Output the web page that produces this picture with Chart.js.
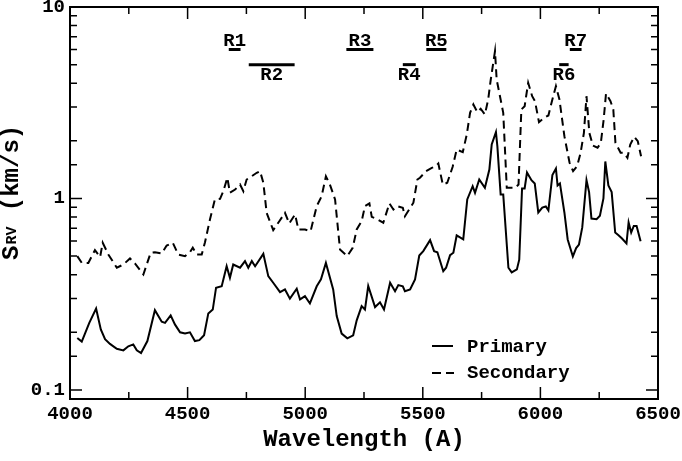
<!DOCTYPE html>
<html>
<head>
<meta charset="utf-8">
<script src="https://cdn.jsdelivr.net/npm/chart.js@4.4.0/dist/chart.umd.min.js"></script>
<style>
  html, body { margin: 0; padding: 0; background: #fff; }
  #wrap { width: 682px; height: 461px; }
</style>
</head>
<body>
<div id="wrap"><canvas id="c" width="682" height="461"></canvas></div>
<script>
// =====================
// DATA
// =====================
const primaryWave = [4031,4050,4082,4111,4131,4149,4170,4199,4227,4248,
  4269,4284,4302,4329,4361,4390,4404,4428,4446,4468,
  4489,4510,4531,4550,4570,4588,4607,4621,4645,4666,
  4680,4694,4723,4744,4758,4773,4787,4822,4843,4864,
  4893,4914,4935,4964,4978,4999,5020,5049,5067,5088,
  5119,5134,5155,5179,5204,5219,5240,5254,5268,5297,
  5318,5335,5361,5382,5396,5415,5424,5446,5467,5485,
  5502,5531,5548,5562,5587,5599,5616,5630,5644,5672,
  5689,5712,5722,5740,5764,5783,5793,5811,5817,5831,
  5842,5864,5878,5900,5910,5922,5933,5943,5962,5976,
  5991,6008,6023,6034,6051,6066,6073,6083,6102,6116,
  6138,6152,6164,6178,6196,6207,6217,6239,6253,6268,
  6276,6289,6303,6318,6332,6347,6366,6375,6386,6397,
  6409,6426];
const primaryS = [0.187,0.179,0.224,0.266,0.207,0.184,0.174,0.164,0.161,0.169,
  0.173,0.161,0.156,0.180,0.261,0.227,0.224,0.245,0.220,0.200,
  0.197,0.200,0.180,0.182,0.193,0.251,0.263,0.342,0.348,0.443,
  0.385,0.452,0.435,0.471,0.435,0.471,0.443,0.514,0.393,0.363,
  0.324,0.335,0.300,0.338,0.297,0.309,0.283,0.348,0.378,0.461,
  0.335,0.243,0.197,0.186,0.193,0.231,0.274,0.263,0.349,0.271,
  0.287,0.263,0.363,0.328,0.353,0.348,0.328,0.335,0.378,0.504,
  0.531,0.606,0.531,0.524,0.417,0.435,0.506,0.521,0.641,0.611,
  0.988,1.159,1.071,1.256,1.137,1.417,1.914,2.22,1.876,1.049,
  1.049,0.435,0.411,0.426,0.479,1.128,1.128,1.367,1.246,1.198,
  0.845,0.897,0.908,0.866,1.327,1.434,1.169,1.198,0.845,0.611,
  0.498,0.551,0.575,0.706,1.246,1.08,0.786,0.78,0.812,1.0,
  1.56,1.169,1.08,0.664,0.643,0.618,0.582,0.749,0.664,0.719,
  0.719,0.598];

const secondaryWave = [4031,4050,4078,4106,4128,4139,4163,4199,4227,4255,
  4276,4312,4343,4361,4390,4411,4437,4460,4489,4510,
  4522,4539,4560,4574,4595,4616,4638,4652,4669,4680,
  4702,4723,4737,4751,4773,4794,4808,4822,4836,4864,
  4890,4914,4932,4957,4971,4999,5023,5049,5070,5088,
  5105,5127,5148,5179,5202,5219,5240,5254,5273,5283,
  5307,5332,5358,5375,5392,5415,5424,5460,5477,5488,
  5514,5538,5552,5566,5585,5604,5627,5644,5670,5687,
  5701,5715,5732,5746,5764,5778,5789,5807,5814,5842,
  5857,5893,5907,5919,5933,5948,5965,5977,5994,6016,
  6034,6049,6066,6081,6102,6124,6139,6156,6171,6185,
  6196,6208,6223,6243,6257,6269,6279,6298,6310,6319,
  6341,6355,6370,6382,6399,6414,6428];
const secondaryS = [0.500,0.461,0.461,0.537,0.494,0.587,0.510,0.435,0.452,0.486,
  0.458,0.401,0.521,0.524,0.516,0.568,0.587,0.510,0.500,0.524,
  0.553,0.510,0.510,0.591,0.777,0.988,0.996,1.092,1.283,1.071,
  1.114,1.183,1.092,1.256,1.307,1.362,1.389,1.208,0.842,0.683,
  0.761,0.842,0.740,0.825,0.689,0.689,0.675,0.912,1.028,1.307,
  1.183,0.988,0.542,0.500,0.553,0.689,0.761,0.912,0.942,0.802,
  0.777,0.747,0.942,0.876,0.912,0.894,0.808,0.950,1.256,1.283,
  1.389,1.446,1.464,1.523,1.183,1.208,1.464,1.803,1.745,2.159,
  2.803,3.097,2.823,2.941,2.746,3.288,4.182,5.877,4.182,2.803,
  1.137,1.137,1.183,2.916,3.034,4.020,3.421,3.222,2.502,2.638,
  2.713,3.222,3.859,3.288,2.115,1.536,1.389,1.475,1.732,2.203,
  3.421,2.203,1.891,1.840,1.954,2.585,3.534,3.222,2.916,1.954,
  1.732,1.732,1.631,1.914,2.100,1.992,1.663];

// wavelength regions marked at the top
const regionNames = ['R1','R2','R3','R4','R5','R6','R7'];
const regionStart = [4675,4760,5175,5415,5515,6080,6125];
const regionEnd   = [4725,4955,5290,5470,5600,6120,6175];
const regionLevel = [6,5,6,5,6,5,6];

const FONT = '"Liberation Mono", "Courier New", monospace';

function toPoints(xs, ys) {
  return xs.map((x, i) => ({ x: x, y: ys[i] }));
}

function isDecade(v) {
  const l = Math.log10(v);
  return Math.abs(l - Math.round(l)) < 1e-6;
}

// =====================
// FRAME, TICKS, LABELS
// =====================
const decorPlugin = {
  id: 'decor',
  afterDraw(chart) {
    const ctx = chart.ctx;
    const ca = chart.chartArea;
    const xs = chart.scales.x, ys = chart.scales.y;
    ctx.save();
    ctx.strokeStyle = '#000';
    ctx.fillStyle = '#000';

    // inward ticks on all four sides
    ctx.lineWidth = 1.5;
    ctx.beginPath();
    for (let w = 4000; w <= 6500; w += 250) {
      const px = xs.getPixelForValue(w);
      const len = (w % 500 === 0) ? 12 : 7;
      ctx.moveTo(px, ca.bottom); ctx.lineTo(px, ca.bottom - len);
      ctx.moveTo(px, ca.top); ctx.lineTo(px, ca.top + len);
    }
    ys.ticks.forEach(t => {
      const v = t.value;
      if (v <= ys.min || v > ys.max) return;
      const py = ys.getPixelForValue(v);
      const len = isDecade(v) ? 12 : 7;
      ctx.moveTo(ca.left, py); ctx.lineTo(ca.left + len, py);
      ctx.moveTo(ca.right, py); ctx.lineTo(ca.right - len, py);
    });
    ctx.stroke();

    // frame
    ctx.lineWidth = 2;
    ctx.strokeRect(ca.left, ca.top, ca.right - ca.left, ca.bottom - ca.top);

    // region bars + labels
    ctx.lineWidth = 3;
    ctx.font = 'bold 19px ' + FONT;
    ctx.textAlign = 'center';
    regionNames.forEach((name, i) => {
      const x0 = xs.getPixelForValue(regionStart[i]);
      const x1 = xs.getPixelForValue(regionEnd[i]);
      const py = ys.getPixelForValue(regionLevel[i]);
      ctx.beginPath();
      ctx.moveTo(x0, py); ctx.lineTo(x1, py);
      ctx.stroke();
      const cx = (x0 + x1) / 2;
      if (regionLevel[i] > 5.5) {
        ctx.textBaseline = 'alphabetic';
        ctx.fillText(name, cx, py - 3);
      } else {
        ctx.textBaseline = 'top';
        ctx.fillText(name, cx, py + 1);
      }
    });

    // legend
    ctx.lineWidth = 2;
    ctx.beginPath();
    ctx.moveTo(432, 346); ctx.lineTo(453, 346);
    ctx.stroke();
    ctx.setLineDash([9, 5]);
    ctx.beginPath();
    ctx.moveTo(432, 373); ctx.lineTo(454, 373);
    ctx.stroke();
    ctx.setLineDash([]);
    ctx.textAlign = 'left';
    ctx.textBaseline = 'middle';
    ctx.font = 'bold 19px ' + FONT;
    ctx.fillText('Primary', 467, 347);
    ctx.fillText('Secondary', 467, 373);

    // y axis title: S_RV (km/s)
    ctx.translate(18, 260);
    ctx.rotate(-Math.PI / 2);
    ctx.textBaseline = 'alphabetic';
    ctx.font = 'bold 24px ' + FONT;
    ctx.fillText('S', 0, 0);
    let w = ctx.measureText('S').width;
    ctx.font = 'bold 15px ' + FONT;
    ctx.fillText('RV', w + 1, -2);
    w += ctx.measureText('RV').width + 2;
    ctx.font = 'bold 24px ' + FONT;
    ctx.fillText(' (km/s)', w, 0);

    ctx.restore();
  }
};

// =====================
// CHART
// =====================
new Chart(document.getElementById('c'), {
  type: 'line',
  data: {
    datasets: [
      {
        label: 'Primary',
        data: toPoints(primaryWave, primaryS),
        borderColor: '#000',
        borderWidth: 2,
        pointRadius: 0,
        tension: 0,
        fill: false
      },
      {
        label: 'Secondary',
        data: toPoints(secondaryWave, secondaryS),
        borderColor: '#000',
        borderWidth: 2,
        borderDash: [8, 5],
        pointRadius: 0,
        tension: 0,
        fill: false
      }
    ]
  },
  options: {
    responsive: false,
    animation: false,
    devicePixelRatio: 1,
    layout: { padding: { top: 7, right: 24, left: 0, bottom: 0 } },
    plugins: { legend: { display: false }, tooltip: { enabled: false } },
    scales: {
      x: {
        type: 'linear',
        min: 4000,
        max: 6500,
        grid: { display: false, drawTicks: false },
        border: { display: false },
        ticks: {
          stepSize: 500,
          autoSkip: false,
          maxRotation: 0,
          padding: 4,
          color: '#000',
          font: { family: FONT, weight: 'bold', size: 19 },
          callback: v => String(v)
        },
        title: {
          display: true,
          text: 'Wavelength (A)',
          color: '#000',
          font: { family: FONT, weight: 'bold', size: 24 },
          padding: { top: 0, bottom: 7 }
        },
        afterFit: s => { s.height = 62; s.paddingLeft = 0; s.paddingRight = 0; }
      },
      y: {
        type: 'logarithmic',
        min: 0.0897,
        max: 10,
        grid: { display: false, drawTicks: false },
        border: { display: false },
        ticks: {
          autoSkip: false,
          padding: 5,
          color: '#000',
          font: { family: FONT, weight: 'bold', size: 19 },
          callback: v => isDecade(v) ? String(Math.round(v * 10) / 10) : ''
        },
        afterFit: s => { s.width = 70; s.paddingTop = 0; s.paddingBottom = 0; }
      }
    }
  },
  plugins: [decorPlugin]
});
</script>
</body>
</html>
